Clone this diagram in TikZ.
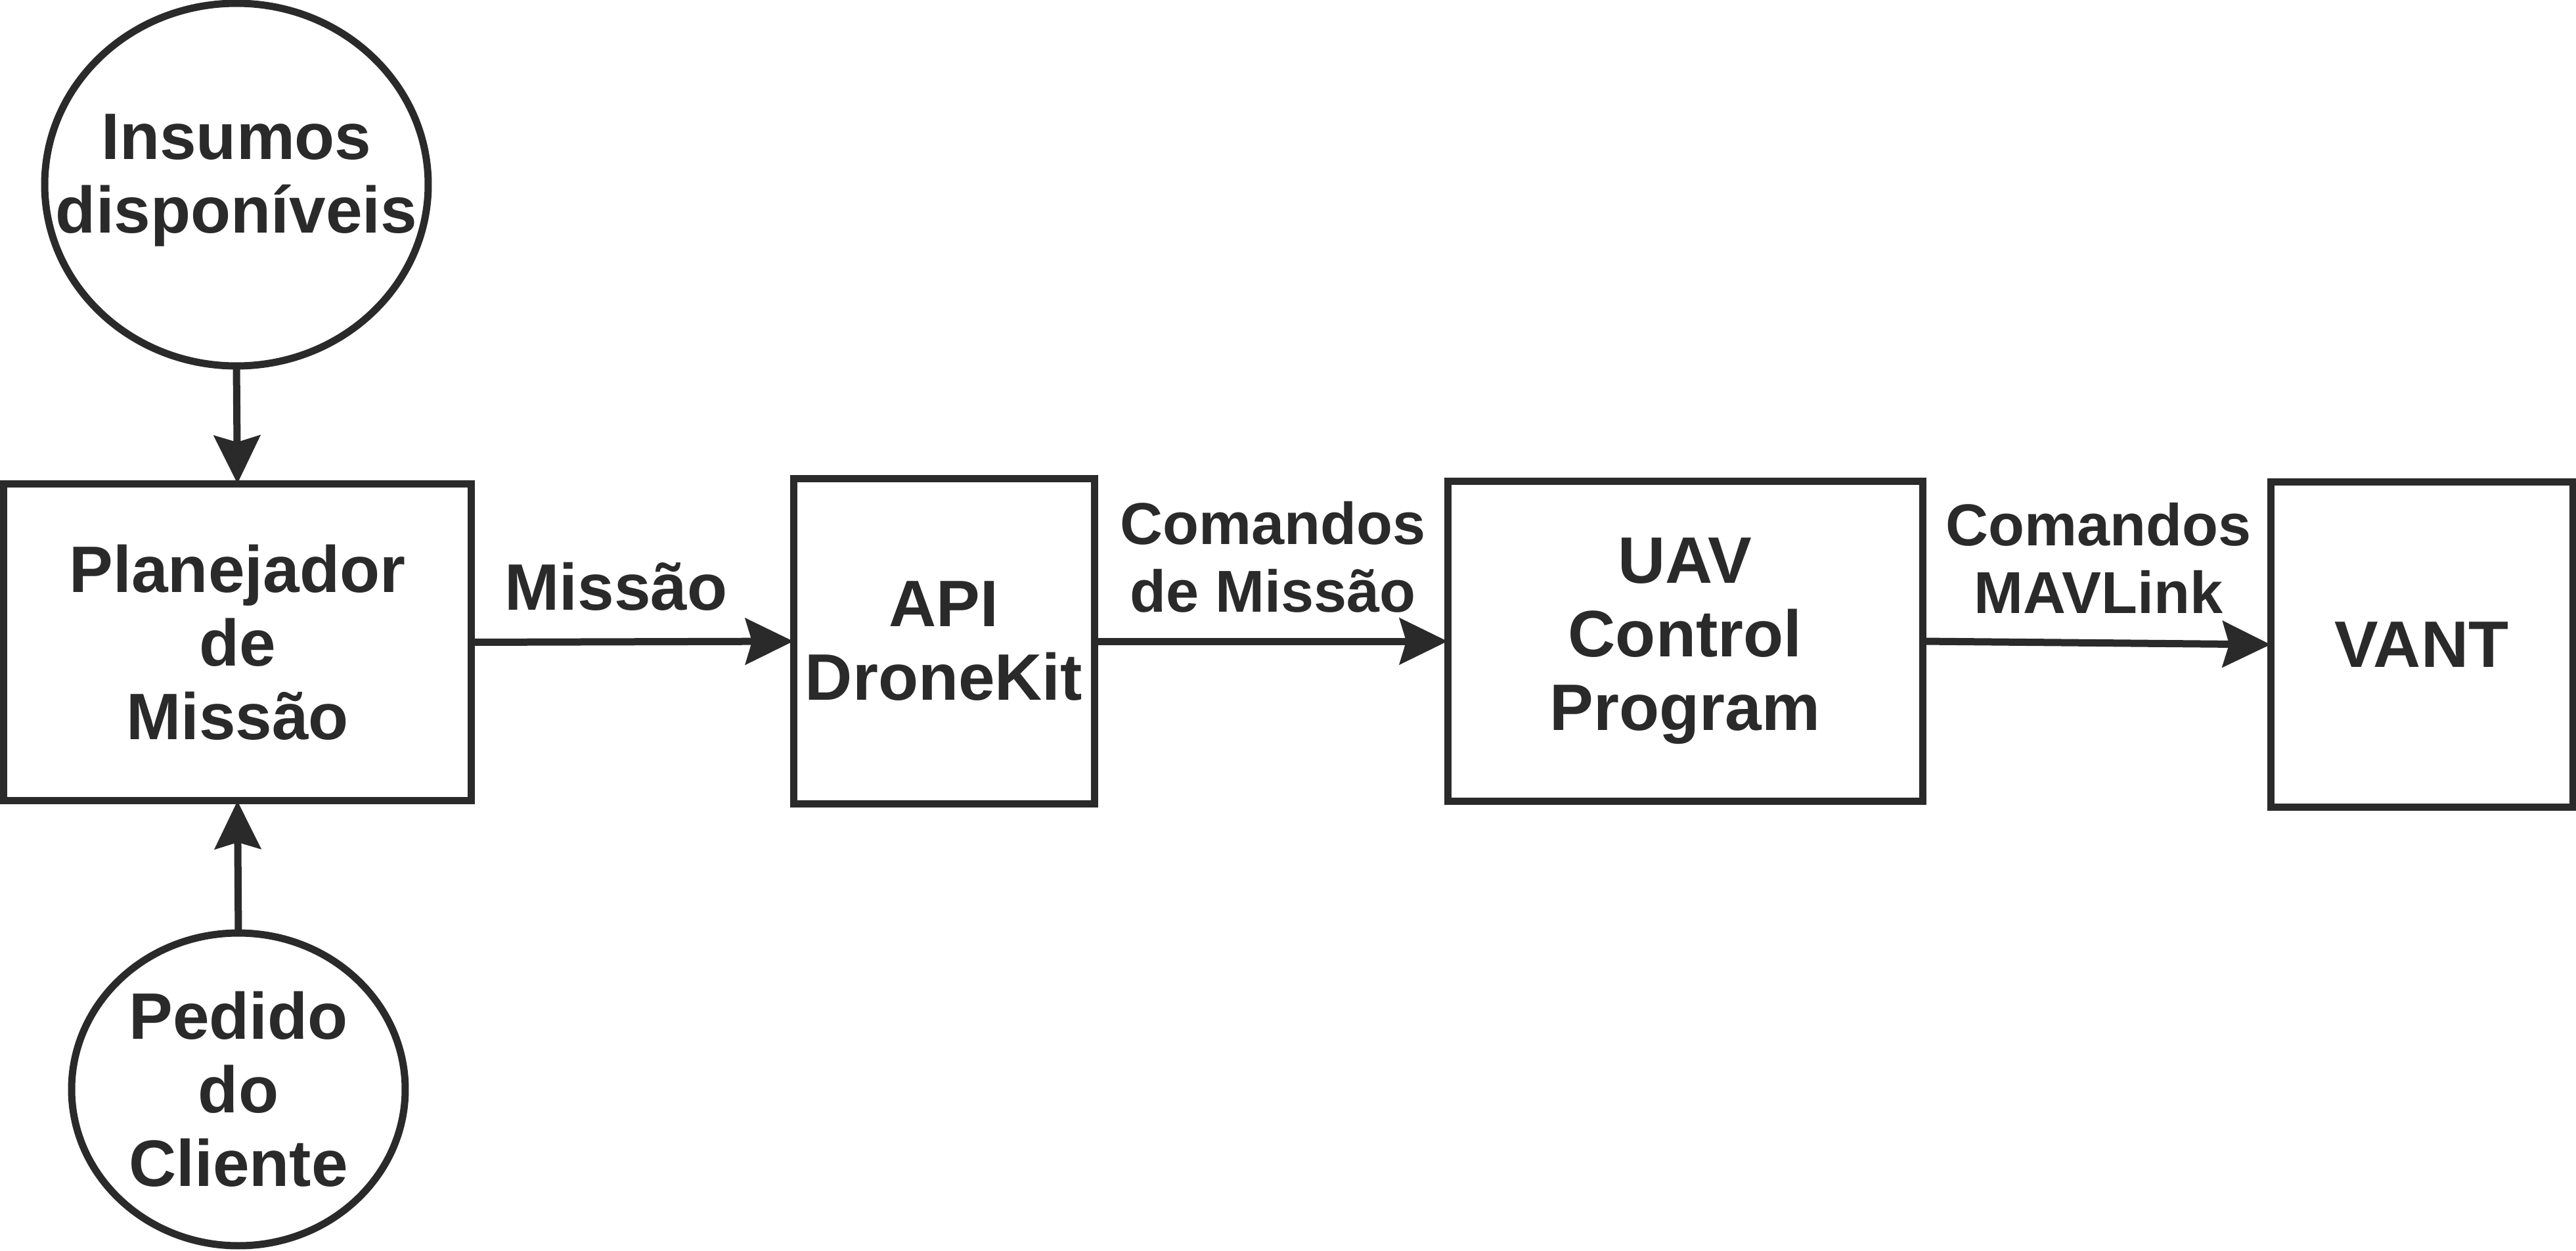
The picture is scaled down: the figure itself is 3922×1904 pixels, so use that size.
\documentclass[tikz,border=0pt]{standalone}
\usepackage{fontspec}
\setmainfont{Liberation Sans}
\usetikzlibrary{arrows.meta,shapes.geometric}
\definecolor{ink}{HTML}{2A2A2A}
\begin{document}
\begin{tikzpicture}[x=0.1pt,y=-0.1pt,
  every node/.style={font=\bfseries\fontsize{10pt}{11.2pt}\selectfont, text=ink, align=center},
  box/.style={draw=ink, line width=1.1pt, rectangle, inner sep=0pt, outer sep=0pt},
  oval/.style={draw=ink, line width=1.1pt, ellipse, inner sep=0pt, outer sep=0pt},
  arr/.style={draw=ink, line width=1.1pt, -{Stealth[length=7.3pt,width=7pt,inset=1pt]}},
  lbl/.style={font=\bfseries\fontsize{9pt}{10.3pt}\selectfont}
]
\useasboundingbox (0,0) rectangle (3922,1904);

\node[oval, minimum width=58.4pt, minimum height=55.2pt,
      label={[yshift=0.7pt]center:Insumos\\disponíveis}] (ins) at (360,281) {};
\node[box, minimum width=71.3pt, minimum height=48.3pt] (plan) at (361.5,977.5) {Planejador\\de\\Missão};
\node[oval, minimum width=50.8pt, minimum height=47.6pt,
      label={center:Pedido\\do\\Cliente}] (ped) at (363,1658) {};
\node[box, minimum width=45.8pt, minimum height=49.6pt] (api) at (1437,976) {API\\DroneKit};
\node[box, minimum width=72.3pt, minimum height=48.8pt] (uav) at (2565.5,976) {UAV\\Control\\Program};
\node[box, minimum width=46pt, minimum height=49.6pt] (vant) at (3687,981) {VANT};

\node (l1) at (938,893) {Missão};
\node[lbl] (l2) at (1938,848) {Comandos\\de Missão};
\node[lbl] (l3) at (3195,849) {Comandos\\MAVLink};

\draw[arr] (ins.south) -- (plan.north);
\draw[arr] (ped.north) -- (plan.south);
\draw[arr] (plan.east) -- (api.west);
\draw[arr] (api.east) -- (uav.west);
\draw[arr] (uav.east) -- (vant.west);
\end{tikzpicture}
\end{document}
